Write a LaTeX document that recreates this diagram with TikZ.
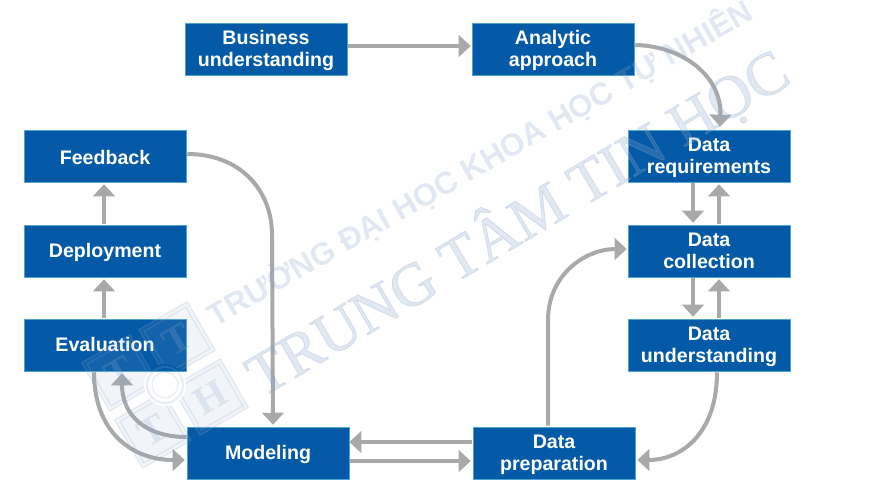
\documentclass[tikz,border=0pt]{standalone}
\usepackage{fontspec}
\setmainfont{Liberation Sans}
\newfontfamily\wmserif[FakeBold=1.5]{Liberation Serif}
\newfontfamily\wmserifb{Liberation Serif}
\usetikzlibrary{arrows.meta,calc}
\definecolor{boxblue}{HTML}{045AA6}
\definecolor{boxedge}{HTML}{4FA3D1}
\definecolor{linkgray}{HTML}{A8A9AB}
\definecolor{wmark}{HTML}{8FA7CB}
\newcommand\stg[2][1.5pt]{\raisebox{-#1}[\height][\depth]{\begin{tabular}{@{}c@{}}#2\end{tabular}}}
\tikzset{
  x=0.75pt,y=-0.75pt,
  stage/.style={draw=boxedge,line width=0.4pt,fill=boxblue,text=white,minimum width=121.5pt,minimum height=39pt,inner sep=0pt,font=\fontsize{14.7}{16.9}\selectfont\bfseries},
  link/.style={draw=linkgray,line width=3pt,-{Triangle[length=9pt,width=16pt,fill=linkgray]}},
  wmsmall/.style={text=wmark,text opacity=.25,rotate=29.8,inner sep=0pt,font=\fontsize{23.5}{26}\selectfont\bfseries},
  wmbig/.style={text=wmark,text opacity=.25,rotate=30.7,inner sep=0pt,font=\fontsize{45.5}{47}\selectfont\wmserif},
  wmline/.style={draw=wmark,draw opacity=.2,line width=0.9pt},
  wmsquare/.style={fill=wmark,fill opacity=.12},
  wmletter/.style={text=wmark,text opacity=.22,rotate=30,inner sep=0pt,font=\fontsize{30}{32}\selectfont\wmserifb\bfseries}
}
\begin{document}
\begin{tikzpicture}
\useasboundingbox (0,0) rectangle (880,500);
\fill[white] (0,0) rectangle (880,500);
% stages
\node[stage] (biz) at (266,49) {\stg{Business\\understanding}};
\node[stage] (app) at (553,49) {\stg{Analytic\\approach}};
\node[stage] (req) at (709,156) {\stg{Data\\requirements}};
\node[stage] (col) at (709,251) {\stg{Data\\collection}};
\node[stage] (und) at (709,345) {\stg{Data\\understanding}};
\node[stage] (pre) at (554,453) {\stg{Data\\preparation}};
\node[stage] (mod) at (268,453) {\stg{Modeling}};
\node[stage] (eva) at (105,345) {\stg{Evaluation}};
\node[stage] (dep) at (105,251) {\stg{Deployment}};
\node[stage] (fee) at (105,156) {\stg[3pt]{Feedback}};
% connectors
\draw[link] ($(biz.east)+(1,-3)$) -- ($(app.west)+(-1,-3)$);
\draw[link] ($(app.east)+(1,-4)$) .. controls +(47,1) and (722,76) .. ($(req.north)+(11,-3)$);
\draw[link] ($(req.south)+(-16,1)$) -- ($(col.north)+(-16,-2)$);
\draw[link] ($(col.north)+(10,-1)$) -- ($(req.south)+(10,2)$);
\draw[link] ($(col.south)+(-16,1)$) -- ($(und.north)+(-16,-2)$);
\draw[link] ($(und.north)+(10,-1)$) -- ($(col.south)+(10,2)$);
\draw[link] ($(und.south)+(8,1)$) .. controls (717,435) and (680,460) .. ($(pre.east)+(2,7)$);
\draw[link] ($(pre.north)+(-6,-1)$) -- (548,320) .. controls (548,275) and (585,249) .. ($(col.west)+(-1,-2)$);
\draw[link] ($(pre.west)+(-1,-11)$) -- ($(mod.east)+(0,-11)$);
\draw[link] ($(mod.east)+(1,8)$) -- ($(pre.west)+(-2,8)$);
\draw[link] ($(eva.south)+(-11,1)$) .. controls (94,430) and (130,460) .. ($(mod.west)+(-2,7)$);
\draw[link] ($(mod.west)+(0,-16)$) .. controls (145,437) and (122,415) .. ($(eva.south)+(17,2)$);
\draw[link] ($(eva.north)+(-1,-1)$) -- ($(dep.south)+(-1,2)$);
\draw[link] ($(dep.north)+(-1,-1)$) -- ($(fee.south)+(-1,2)$);
\draw[link] ($(fee.east)+(1,-2)$) .. controls (240,154) and (272,190) .. (272,235) -- ($(mod.north)+(5,-2)$);
% watermark
\node[wmsmall] (wm1) at (480,163) {TRƯỜNG ĐẠI HỌC KHOA HỌC TỰ NHIÊN};
\node[wmbig] (wm2) at (517,222) {TRUNG TÂM TIN HỌC};
\begin{scope}[shift={(165,385)},x={(0.6495pt,0.375pt)},y={(0.375pt,-0.6495pt)}]
  \begin{scope}[even odd rule]
    \clip (-100,-100) -- (100,-100) -- (100,100) -- (-100,100) -- cycle (0,0) circle (21);
    \foreach \a/\b in {33/-33,33/33,-33/33,-33/-33}{
      \path[wmsquare] (\a-28,\b-28) -- (\a+28,\b-28) -- (\a+28,\b+28) -- (\a-28,\b+28) -- cycle;
      \draw[wmline] (\a-28,\b-28) -- (\a+28,\b-28) -- (\a+28,\b+28) -- (\a-28,\b+28) -- cycle;
      \draw[wmline] (\a-24,\b-24) -- (\a+24,\b-24) -- (\a+24,\b+24) -- (\a-24,\b+24) -- cycle;
    }
  \end{scope}
  \draw[wmline,line width=1.6pt] (0,0) circle (18);
  \draw[wmline] (0,0) circle (13);
  \node[wmletter] (wmt1) at (33,-33) {T};
  \node[wmletter] (wmt2) at (-33,-33) {T};
  \node[wmletter] (wmt3) at (-33,33) {T};
  \node[wmletter] (wmh) at (33,33) {H};
\end{scope}
\end{tikzpicture}
\end{document}
